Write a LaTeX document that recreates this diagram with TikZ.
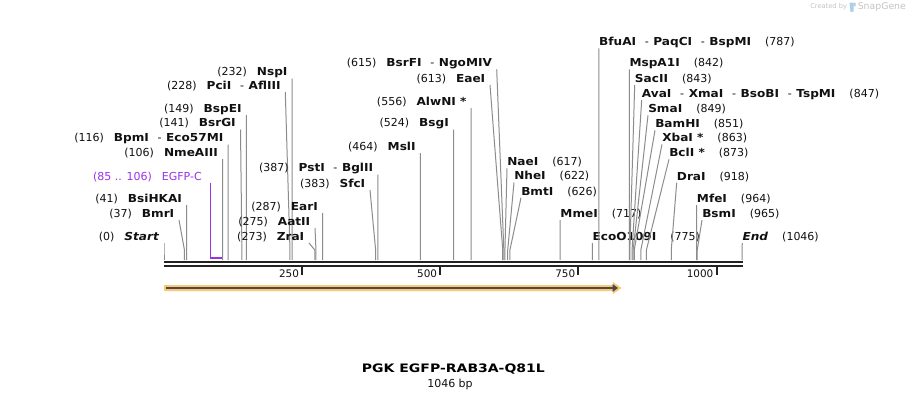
\documentclass[tikz,border=0pt]{standalone}
\usepackage{fontspec}
\setmainfont{DejaVu Sans}[BoldFeatures={FakeStretch=1.1},BoldItalicFeatures={FakeStretch=1.1}]
\newfontfamily\titlefont{DejaVu Sans}[FakeStretch=1.2]
\usetikzlibrary{calc,arrows.meta}
\definecolor{txt}{HTML}{111111}
\definecolor{sitegray}{HTML}{8C8C8C}
\definecolor{axisblack}{HTML}{222222}
\definecolor{featorange}{HTML}{FBC774}
\definecolor{featdark}{HTML}{4A4A4A}
\definecolor{egfp}{RGB}{155,50,230}
\definecolor{logogray}{HTML}{C4C4C4}
\definecolor{logoblue}{HTML}{A9CFEA}
\newcommand\lblfont{\fontsize{8.25pt}{10pt}\selectfont}
\newcommand\gp{\hspace{7.5pt}}
\newcommand\gq{\hspace{10.5pt}}
\newcommand\dsh{\hspace{6.5pt}-\hspace{3.5pt}}
\newcommand\siteL[5]{%
  \node[lbl,anchor=east] (#1) at ({#2-4.5},#3) {#5};
  \coordinate (#1b) at ({164+#4*0.552581},250);
  \coordinate (#1s) at ({164+#4*0.552581},260);
  \draw[site] ($(#1.east)+(4.5,6)$) -- (#1b) -- (#1s);
}
\newcommand\siteR[5]{%
  \node[lbl,anchor=west] (#1) at (#2,#3) {#5};
  \coordinate (#1b) at ({164+#4*0.552581},250);
  \coordinate (#1s) at ({164+#4*0.552581},260);
  \draw[site] ($(#1.west)+(0,6)$) -- (#1b) -- (#1s);
}
\begin{document}
\begin{tikzpicture}[x=0.75pt,y=-0.75pt,
  lbl/.style={inner sep=0pt,font=\lblfont,text=txt},
  site/.style={draw=sitegray,line width=0.75pt},
  axisline/.style={draw=axisblack,line width=1.9pt},
  tickline/.style={draw=axisblack,line width=1.5pt},
  ticklbl/.style={inner sep=0pt,font=\fontsize{7.8pt}{9pt}\selectfont,text=txt,anchor=east}]
\useasboundingbox (0,0) rectangle (907,400);
\fill[white] (0,0) rectangle (907,400);

% axis
\coordinate (a0) at (164,262);
\coordinate (a1) at (742.5,262);
\coordinate (b0) at (164,266);
\coordinate (b1) at (742.5,266);
\draw[axisline] (a0) -- (a1);
\draw[axisline] (b0) -- (b1);
\foreach \n/\v in {t1/250,t2/500,t3/750,t4/1000}{
  \coordinate (\n) at ({164+\v*0.552581},267);
  \coordinate (\n e) at ({164+\v*0.552581},274.5);
  \draw[tickline] (\n) -- (\n e);
  \node[ticklbl] (\n l) at ({164+\v*0.552581-3},274) {\v};
}

% feature arrow
\coordinate (f0) at (166,288);
\coordinate (f1) at (618,288);
\fill[featorange] (164,285) -- (613,285) -- (613,282) -- (621.5,288) -- (613,294) -- (613,291) -- (164,291) -- cycle;
\draw[featdark,line width=1.3pt,-{Triangle[length=4pt,width=5.5pt]}] (f0) -- (f1);

% EGFP-C feature
\node[lbl,anchor=east,text=egfp] (egfp) at (202,176.7) {(85 .. 106)\gp EGFP-C};
\coordinate (e0) at (210.5,258);
\coordinate (e1) at (222.6,258);
\draw[egfp,line width=1.4pt] ($(egfp.east)+(8.5,6)$) -- (e0) -- (e1);

% left-hand sites
\siteL{Start}{164}{237}{0}{(0)\gp\textbf{\textit{Start}}}
\siteL{BmrI}{179}{214}{37}{(37)\gp\textbf{BmrI}}
\siteL{BsiHKAI}{186.7}{199}{41}{(41)\gp\textbf{BsiHKAI}}
\siteL{NmeAIII}{222.6}{153}{106}{(106)\gp\textbf{NmeAIII}}
\siteL{BpmI}{228.1}{138.5}{116}{(116)\gp\textbf{BpmI}\dsh\textbf{Eco57MI}}
\siteL{BsrGI}{240.5}{123.5}{141}{(141)\gp\textbf{BsrGI}}
\siteL{BspEI}{246.3}{109}{149}{(149)\gp\textbf{BspEI}}
\siteL{PciI}{285.3}{86}{228}{(228)\gp\textbf{PciI}\dsh\textbf{AflIII}}
\siteL{NspI}{292.2}{72.5}{232}{(232)\gp\textbf{NspI}}
\siteL{ZraI}{309}{237}{273}{(273)\gp\textbf{ZraI}}
\siteL{AatII}{315}{222}{275}{(275)\gp\textbf{AatII}}
\siteL{EarI}{322.6}{207}{287}{(287)\gp\textbf{EarI}}
\siteL{SfcI}{370}{184}{383}{(383)\gp\textbf{SfcI}}
\siteL{PstI}{377.9}{168.5}{387}{(387)\gp\textbf{PstI}\dsh\textbf{BglII}}
\siteL{MslI}{420.4}{147}{464}{(464)\gp\textbf{MslI}}
\siteL{BsgI}{453.6}{123.5}{524}{(524)\gp\textbf{BsgI}}
\siteL{AlwNI}{471.2}{102}{556}{(556)\gp\textbf{AlwNI *}}
\siteL{EaeI}{490}{79}{613}{(613)\gp\textbf{EaeI}}
\siteL{BsrFI}{496.7}{63.3}{615}{(615)\gp\textbf{BsrFI}\dsh\textbf{NgoMIV}}

% right-hand sites
\siteR{NaeI}{507}{162.3}{617}{\textbf{NaeI}\gq(617)}
\siteR{NheI}{514}{176.5}{622}{\textbf{NheI}\gq(622)}
\siteR{BmtI}{521}{191.7}{626}{\textbf{BmtI}\gq(626)}
\siteR{MmeI}{560.2}{214}{717}{\textbf{MmeI}\gq(717)}
\siteR{EcoOI}{592.3}{237}{775}{\textbf{EcoO109I}\gq(775)}
\siteR{BfuAI}{598.9}{42.3}{787}{\textbf{BfuAI}\dsh\textbf{PaqCI}\dsh\textbf{BspMI}\gq(787)}
\siteR{MspAI}{629.3}{63.3}{842}{\textbf{MspA1I}\gq(842)}
\siteR{SacII}{634.7}{79}{843}{\textbf{SacII}\gq(843)}
\siteR{AvaI}{641.7}{94}{847}{\textbf{AvaI}\dsh\textbf{XmaI}\dsh\textbf{BsoBI}\dsh\textbf{TspMI}\gq(847)}
\siteR{SmaI}{648}{109.3}{849}{\textbf{SmaI}\gq(849)}
\siteR{BamHI}{655}{124.3}{851}{\textbf{BamHI}\gq(851)}
\siteR{XbaI}{662}{138.3}{863}{\textbf{XbaI *}\gq(863)}
\siteR{BclI}{669}{153.3}{873}{\textbf{BclI *}\gq(873)}
\siteR{DraI}{676.7}{176.7}{918}{\textbf{DraI}\gq(918)}
\siteR{MfeI}{696.7}{199}{964}{\textbf{MfeI}\gq(964)}
\siteR{BsmI}{702}{214}{965}{\textbf{BsmI}\gq(965)}
\siteR{End}{742.3}{237}{1046}{\textbf{\textit{End}}\gq(1046)}

% title
\node[inner sep=0pt,font=\titlefont\fontsize{8.75pt}{10pt}\selectfont\bfseries,text=black] (title) at (453.4,369) {PGK EGFP-RAB3A-Q81L};
\node[lbl] (len) at (450,384) {1046 bp};

% credit
\node[inner sep=0pt,anchor=west,font=\fontsize{5pt}{6pt}\selectfont,text=logogray] (cb) at (810,7) {Created by};
\fill[logoblue] (849.5,2.5) -- (853.5,2.5) -- (853.5,11.5) -- (850.5,12) -- cycle;
\fill[logoblue] (853.5,2.5) -- (855.5,3) -- (855.5,6) -- (853.5,6.5) -- cycle;
\node[inner sep=0pt,anchor=west,font=\fontsize{7pt}{8pt}\selectfont,text=logogray] (sg) at (857.5,7) {SnapGene};
\end{tikzpicture}
\end{document}
